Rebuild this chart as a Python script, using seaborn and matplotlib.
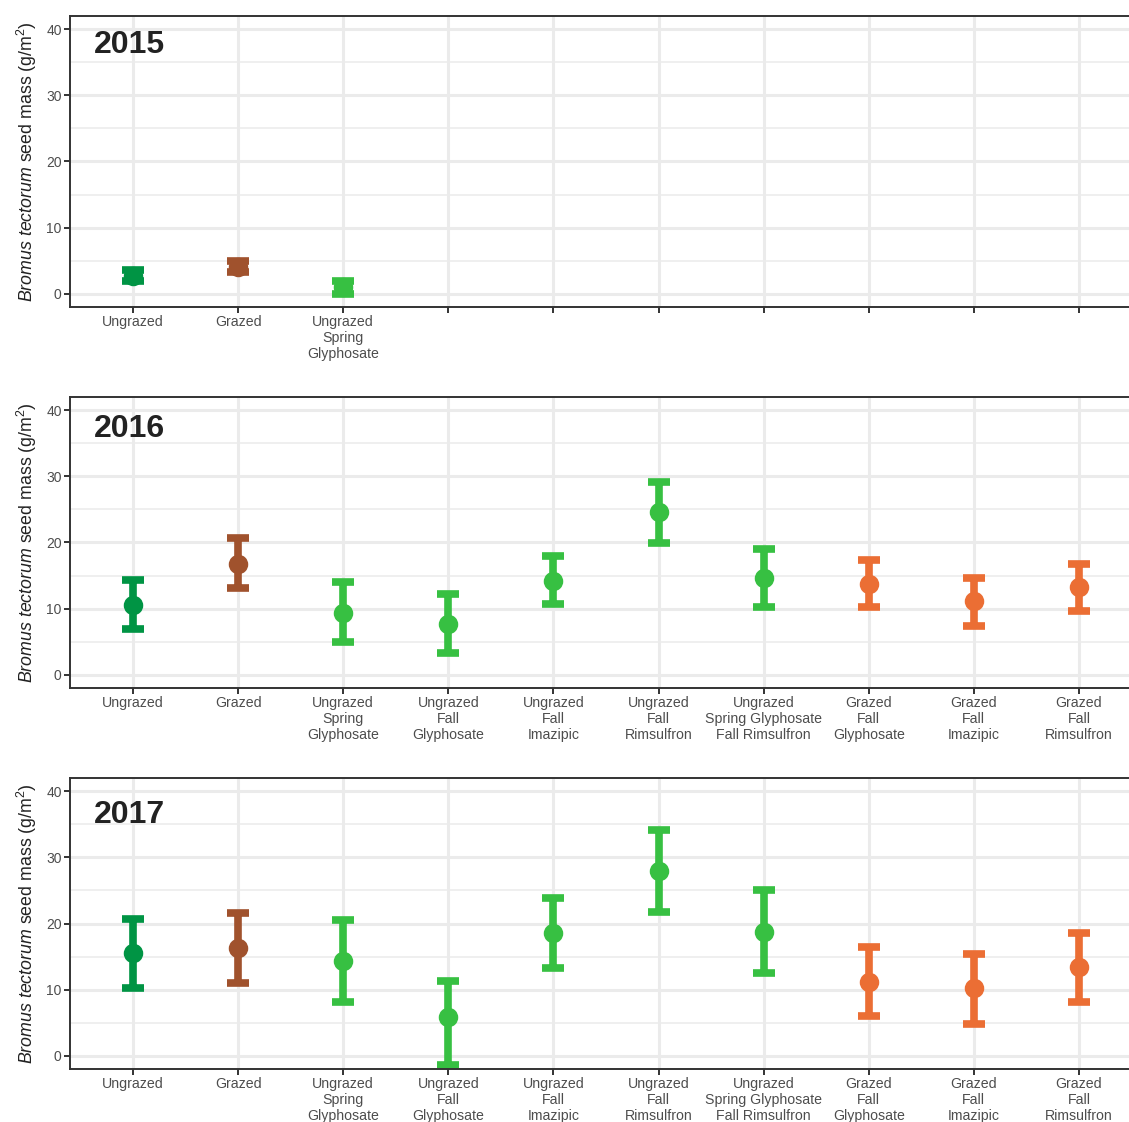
import numpy as np
import pandas as pd
import matplotlib
matplotlib.use("Agg")
import matplotlib.pyplot as plt
import seaborn as sns
from matplotlib.ticker import MultipleLocator

# ------------------------------------------------------------------
# DATA (mean and error bar ends, g/m2).

treatments = [
    "Ungrazed",
    "Grazed",
    "Ungrazed\nSpring\nGlyphosate",
    "Ungrazed\nFall\nGlyphosate",
    "Ungrazed\nFall\nImazipic",
    "Ungrazed\nFall\nRimsulfron",
    "Ungrazed\nSpring Glyphosate\nFall Rimsulfron",
    "Grazed\nFall\nGlyphosate",
    "Grazed\nFall\nImazipic",
    "Grazed\nFall\nRimsulfron",
]
colors = ["#009444", "#A0522D", "#37C042", "#37C042", "#37C042",
          "#37C042", "#37C042", "#EB6E34", "#EB6E34", "#EB6E34"]

years = ["2015", "2016", "2017"]

mean_2015 = [2.75, 4.1, 1.0]
lower_2015 = [1.9, 3.3, 0.0]
upper_2015 = [3.6, 4.9, 2.0]

mean_2016 = [10.6, 16.8, 9.4, 7.7, 14.2, 24.6, 14.7, 13.7, 11.1, 13.2]
lower_2016 = [6.9, 13.1, 5.0, 3.3, 10.7, 19.9, 10.3, 10.2, 7.4, 9.6]
upper_2016 = [14.3, 20.7, 14.0, 12.2, 18.0, 29.2, 19.0, 17.4, 14.6, 16.8]

mean_2017 = [15.5, 16.3, 14.4, 5.9, 18.6, 27.9, 18.7, 11.2, 10.2, 13.4]
lower_2017 = [10.2, 11.0, 8.2, -1.4, 13.3, 21.7, 12.5, 6.0, 4.8, 8.1]
upper_2017 = [20.7, 21.6, 20.6, 11.3, 23.8, 34.1, 25.0, 16.5, 15.4, 18.6]

year_data = {
    "2015": (mean_2015, lower_2015, upper_2015),
    "2016": (mean_2016, lower_2016, upper_2016),
    "2017": (mean_2017, lower_2017, upper_2017),
}

# Long table: three rows per treatment (lower, mean, upper), so the
# median is the mean and the min/max give the error bar.
rows = []
for yr, (m, lo, hi) in year_data.items():
    for i in range(len(m)):
        for v in (lo[i], m[i], hi[i]):
            rows.append({"year": yr, "treatment": treatments[i], "value": v})
df = pd.DataFrame(rows)

# ------------------------------------------------------------------
# STYLE.

sns.set_style("white")
plt.rcParams["font.family"] = ["Liberation Sans", "DejaVu Sans"]
plt.rcParams["mathtext.fontset"] = "custom"
plt.rcParams["mathtext.rm"] = "Liberation Sans"
plt.rcParams["mathtext.it"] = "Liberation Sans:italic"

palette = dict(zip(treatments, colors))

fig = plt.figure(figsize=(11.29, 11.22), dpi=100)

bottoms = [0.7264, 0.3868, 0.0472]
left, width, height = 0.062, 0.9495, 0.2594
text_y = [37.6, 37.2, 36.4]

for k, yr in enumerate(years):
    ax = fig.add_axes([left, bottoms[k], width, height])
    sub = df[df["year"] == yr]

    sns.pointplot(data=sub, x="treatment", y="value", hue="treatment",
                  order=treatments, hue_order=treatments, palette=palette,
                  estimator="median", errorbar=lambda v: (v.min(), v.max()),
                  capsize=0.21, linestyle="none", marker="o", markersize=12,
                  err_kws={"linewidth": 5.5, "solid_capstyle": "butt"},
                  legend=False, ax=ax)

    ax.set_xlim(-0.6, 9.6)
    ax.set_ylim(-2, 42)
    ax.yaxis.set_major_locator(MultipleLocator(10))
    ax.yaxis.set_minor_locator(MultipleLocator(5))

    # grid like ggplot theme_bw
    ax.set_axisbelow(True)
    ax.grid(True, which="major", axis="both", color="#EBEBEB", linewidth=2.2)
    ax.grid(True, which="minor", axis="y", color="#EBEBEB", linewidth=1.1)

    n_present = len(year_data[yr][0])
    labels = [t if i < n_present else "" for i, t in enumerate(treatments)]
    ax.set_xticks(range(len(treatments)))
    ax.set_xticklabels(labels, fontsize=10.2, color="#4D4D4D", linespacing=1.15)
    ax.tick_params(axis="y", labelsize=10, labelcolor="#4D4D4D")
    ax.tick_params(axis="both", which="major", length=4, width=1.4,
                   color="#333333", direction="out", bottom=True, left=True,
                   pad=2)
    ax.tick_params(axis="y", which="minor", length=0)

    for side in ["left", "right", "top", "bottom"]:
        ax.spines[side].set_color("#333333")
        ax.spines[side].set_linewidth(1.4)

    ax.set_xlabel("")
    ax.set_ylabel(r"$\it{Bromus\ tectorum}$ seed mass (g/m$^2$)",
                  fontsize=12.8, color="#222222", labelpad=5)

    ax.text(-0.37, text_y[k], yr, fontsize=23, fontweight="bold",
            color="#222222", ha="left", va="center")

fig.savefig("out.png", dpi=100)
